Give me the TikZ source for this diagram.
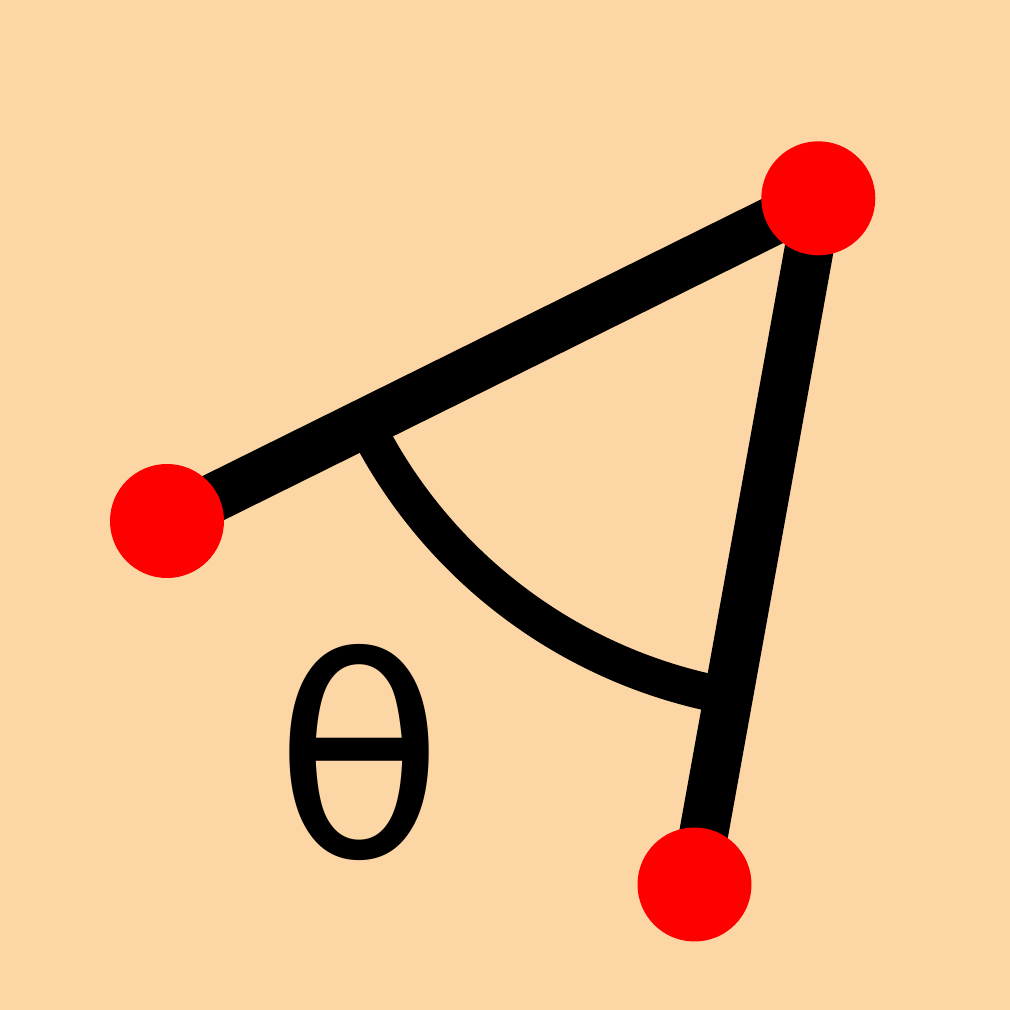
\documentclass[tikz,border=0pt]{standalone}
\usepackage{fontspec}
\newfontfamily\thetafont{DejaVu Sans}
\usetikzlibrary{calc}
\definecolor{bgpeach}{RGB}{253,214,165}
\tikzset{
  reddot/.style={circle, fill=red, inner sep=0pt, minimum size=1.14cm},
  arm/.style={line width=0.49cm},
  anglearc/.style={line width=0.37cm}
}
\begin{document}
\begin{tikzpicture}

	\fill[bgpeach] (0,0) rectangle (10.1,10.1);
	\useasboundingbox (0,0) rectangle (10.1,10.1);

	\coordinate (P) at (1.67, 4.89);
	\coordinate (V) at (8.183, 8.117);
	\coordinate (B) at (6.945, 1.255);

	% angle at V
	\draw[anglearc] ($(V)!5.06cm!(P)$) arc[start angle=206.35, end angle=259.77, radius=5.06];

	\draw[arm] (P) -- (V);
	\draw[arm] (V) -- (B);

	\node[reddot] (left) at (P) {};
	\node[reddot] (top) at (V) {};
	\node[reddot] (bottom) at (B) {};

	\node[inner sep=0pt] (theta) at (3.59, 2.58) {\fontsize{79}{79}\selectfont\thetafont θ};

\end{tikzpicture}
\end{document}
